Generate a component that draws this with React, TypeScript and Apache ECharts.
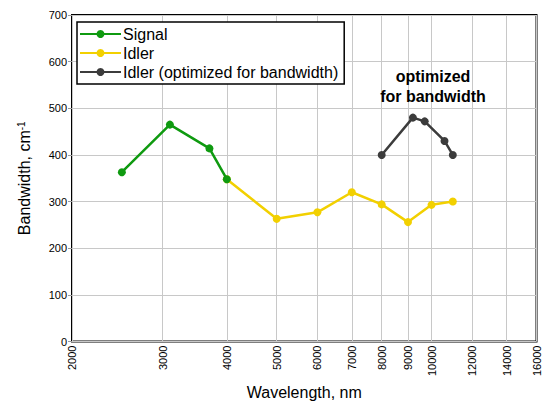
import React, { useEffect, useRef } from "react";
import * as echarts from "echarts";

const xTicks = [2000, 3000, 4000, 5000, 6000, 7000, 8000, 9000, 10000, 12000, 14000, 16000];

const signalX = [2500, 3100, 3700, 4000];
const signalY = [363, 465, 414, 348];

const idlerX = [4000, 5000, 6000, 7000, 8000, 9000, 10000, 11000];
const idlerY = [348, 263, 277, 320, 294, 256, 293, 300];

const optX = [8000, 9200, 9700, 10600, 11000];
const optY = [400, 480, 472, 430, 400];

const FONT = 'Arial, "Liberation Sans", sans-serif';

const zip = (xs: number[], ys: number[]) => xs.map((x, i) => [x, ys[i]]);

export default function App() {
  const ref = useRef<HTMLDivElement>(null);
  useEffect(() => {
    if (!ref.current) return;
    const chart = echarts.init(ref.current, null, { renderer: "svg" });
    const lineSeries = (name: string, data: number[][], color: string, z: number) => ({
      name,
      type: "line",
      data,
      z,
      symbol: "circle",
      symbolSize: 8,
      lineStyle: { color, width: 2.5 },
      itemStyle: { color },
    });
    chart.setOption({
      animation: false,
      textStyle: { fontFamily: FONT },
      grid: {
        left: 72,
        right: 4,
        top: 15,
        bottom: 57,
        show: true,
        borderColor: "#000",
        borderWidth: 2,
        backgroundColor: "transparent",
      },
      legend: {
        left: 77,
        top: 22,
        orient: "vertical",
        data: ["Signal", "Idler", "Idler (optimized for bandwidth)"],
        backgroundColor: "#fff",
        borderColor: "#000",
        borderWidth: 1.5,
        borderRadius: 0,
        padding: [4, 6, 4, 2],
        itemWidth: 41,
        itemHeight: 10,
        itemGap: 3,
        textStyle: { fontSize: 16, color: "#000", fontFamily: FONT, padding: [0, 0, 0, -3] },
      },
      xAxis: {
        type: "log",
        min: 2000,
        max: 16000,
        name: "Wavelength, nm",
        nameLocation: "middle",
        nameGap: 37,
        nameTextStyle: { fontSize: 16, color: "#000", fontFamily: FONT },
        axisLine: { show: false },
        axisTick: { show: false, customValues: xTicks },
        axisLabel: {
          customValues: xTicks,
          rotate: 90,
          fontSize: 11,
          color: "#000",
          margin: 4,
          fontFamily: FONT,
          formatter: (v: number) => String(Math.round(v)),
        },
        splitLine: { show: true, lineStyle: { color: "#c8c8c8", width: 1 } },
      },
      yAxis: {
        type: "value",
        min: 0,
        max: 700,
        interval: 100,
        name: "{a|Bandwidth, cm}{s|-1}",
        nameLocation: "middle",
        nameGap: 40,
        nameTextStyle: {
          color: "#000",
          fontFamily: FONT,
          rich: {
            a: { fontSize: 16, color: "#000", fontFamily: FONT },
            s: { fontSize: 10, color: "#000", fontFamily: FONT, verticalAlign: "top", padding: [0, 0, 6, 0] },
          },
        },
        axisLine: { show: false },
        axisTick: { show: true, length: 4, lineStyle: { color: "#999" } },
        axisLabel: { fontSize: 11, color: "#000", margin: 5, fontFamily: FONT },
        splitLine: { show: true, lineStyle: { color: "#c8c8c8", width: 1 } },
      },
      graphic: [
        {
          type: "text",
          x: 433,
          y: 66,
          z: 10,
          style: {
            text: "optimized\nfor bandwidth",
            fontSize: 16,
            fontWeight: "bold",
            fill: "#000",
            align: "center",
            verticalAlign: "top",
            lineHeight: 20,
            fontFamily: FONT,
          },
        },
      ],
      series: [
        lineSeries("Idler", zip(idlerX, idlerY), "#f2d000", 2),
        lineSeries("Signal", zip(signalX, signalY), "#0f9a10", 3),
        lineSeries("Idler (optimized for bandwidth)", zip(optX, optY), "#3c3c3c", 4),
      ],
    });
    return () => chart.dispose();
  }, []);
  return <div ref={ref} style={{ width: 542, height: 405, position: "absolute", left: 0, top: 0 }} />;
}
